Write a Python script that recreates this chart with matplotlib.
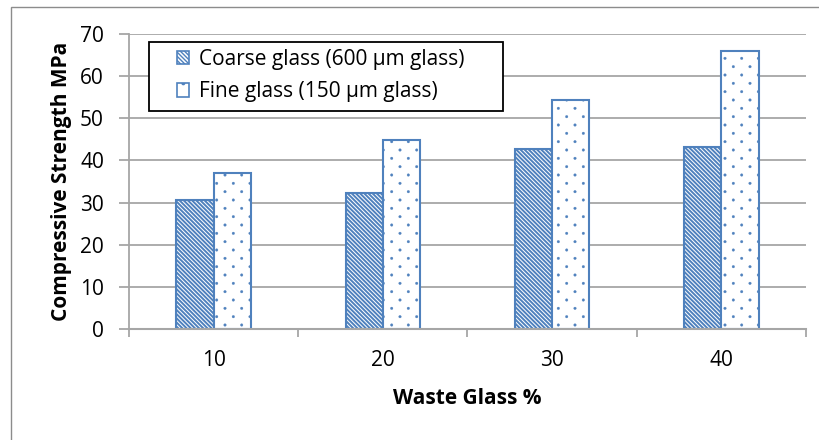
import matplotlib
matplotlib.use("Agg")
import matplotlib.pyplot as plt
from matplotlib import hatch as mhatch
from matplotlib.path import Path
from matplotlib.patches import Rectangle, Patch
import numpy as np

# Compressive strength (MPa) by waste glass replacement level
glass_pct = ["10", "20", "30", "40"]
coarse_600 = [30.7, 32.3, 42.7, 43.2]
fine_150 = [37.1, 44.9, 54.3, 65.9]
series_labels = ["Coarse glass (600 \u00b5m glass)", "Fine glass (150 \u00b5m glass)"]
y_ticks = [0, 10, 20, 30, 40, 50, 60, 70]


class StaggeredDots:
    """Sparse staggered dot fill used for the '.' hatch."""
    radius = 0.013

    def __init__(self, hatch, density):
        pts = []
        if hatch.count('.'):
            rows = 12
            for r in range(rows + 1):
                y = r / rows
                if r % 2 == 0:
                    xs = np.linspace(0, 1, 7)
                else:
                    xs = np.arange(6) / 6 + 1 / 12
                pts += [(xx, y) for xx in xs]
        circ = Path.unit_circle()
        self.cv, self.cc = circ.vertices, circ.codes
        self.pts = pts
        self.num_vertices = len(pts) * len(self.cv)

    def set_vertices_and_codes(self, vertices, codes):
        nv = len(self.cv)
        for i, (px, py) in enumerate(self.pts):
            vertices[i * nv:(i + 1) * nv] = self.cv * self.radius + (px, py)
            codes[i * nv:(i + 1) * nv] = self.cc

    get_vertices_and_codes = set_vertices_and_codes


mhatch._hatch_types = [c for c in mhatch._hatch_types
                       if c is not mhatch.SmallFilledCircles] + [StaggeredDots]

plt.rcParams["font.family"] = ["Open Sans", "DejaVu Sans"]

blue = "#4F81BD"
grid_gray = "#A6A6A6"
fs = 15

fig = plt.figure(figsize=(8.2, 4.4), dpi=100)
ax = fig.add_axes([129 / 820, 1 - 329 / 440, 677 / 820, 295 / 440])

# outer chart frame
fig.patches.append(Rectangle((11 / 820, -0.05), 1.0, 1 - 7 / 440 + 0.05,
                             transform=fig.transFigure, fill=False,
                             edgecolor="#8C8C8C", linewidth=1.0, zorder=0))

x = np.arange(len(glass_pct))
w = 0.22
diag = "\\" * 8

with plt.rc_context({"hatch.linewidth": 1.4}):
    ax.bar(x - w / 2, coarse_600, width=w, facecolor="white", edgecolor=blue,
           hatch=diag, linewidth=1.5, zorder=3)
with plt.rc_context({"hatch.linewidth": 0.2}):
    ax.bar(x + w / 2, fine_150, width=w, facecolor="white", edgecolor=blue,
           hatch=".", linewidth=1.5, zorder=3)

ax.set_xlim(-0.5, len(glass_pct) - 0.5)
ax.set_ylim(0, 70)
ax.set_yticks(y_ticks)
ax.set_yticklabels([str(t) for t in y_ticks], fontsize=fs)
ax.set_xticks(x)
ax.set_xticklabels(glass_pct, fontsize=fs)
ax.set_xticks(np.arange(-0.5, len(glass_pct)), minor=True)
ax.tick_params(axis="x", which="major", length=0, pad=15)
ax.tick_params(axis="x", which="minor", length=6, width=1.3, color=grid_gray, direction="out")
ax.tick_params(axis="y", which="major", length=7, width=1.3, color=grid_gray, pad=11)

ax.yaxis.grid(True, color=grid_gray, linewidth=1.3, zorder=0)
ax.set_axisbelow(True)
for side in ["top", "right"]:
    ax.spines[side].set_visible(False)
ax.spines["left"].set_color(grid_gray)
ax.spines["left"].set_linewidth(1.3)
ax.spines["bottom"].set_color(grid_gray)
ax.spines["bottom"].set_linewidth(1.5)
ax.spines["bottom"].set_zorder(4)

ax.set_ylabel("Compressive Strength MPa", fontsize=fs, fontweight="bold", labelpad=6)
ax.set_xlabel("Waste Glass %", fontsize=fs, fontweight="bold", labelpad=12)

# legend with its own box
ax.add_patch(Rectangle(((149 - 129) / 677, (329 - 111) / 295), (503 - 149) / 677, 69 / 295,
                       transform=ax.transAxes, facecolor="white", edgecolor="black",
                       linewidth=1.3, zorder=5, clip_on=False))
with plt.rc_context({"hatch.linewidth": 1.1}):
    h1 = Patch(facecolor="white", edgecolor=blue, hatch=diag, linewidth=1.2)
with plt.rc_context({"hatch.linewidth": 0.2}):
    h2 = Patch(facecolor="white", edgecolor=blue, hatch=".", linewidth=1.2)
leg = ax.legend([h1, h2], series_labels, loc="upper left",
                bbox_to_anchor=((177 - 129) / 677, (329 - 49) / 295),
                borderaxespad=0, borderpad=0, frameon=False, fontsize=fs,
                handlelength=0.6, handleheight=0.6, handletextpad=0.45,
                labelspacing=0.55)
leg.set_zorder(6)

fig.savefig("out.png", dpi=100)
